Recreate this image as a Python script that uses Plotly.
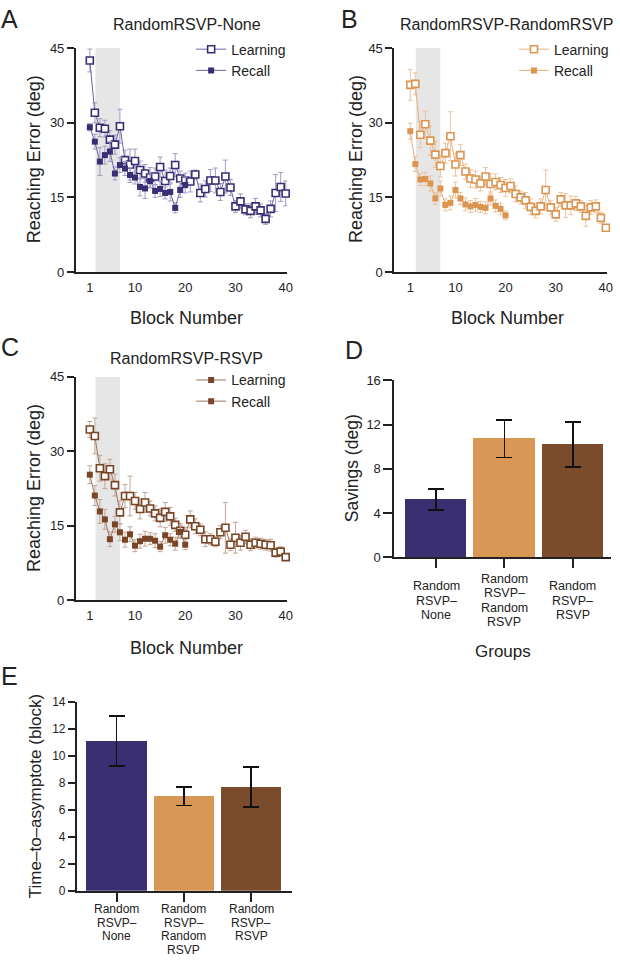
import plotly.graph_objects as go

W, H = 620, 963
FONT = "Liberation Sans, Arial, sans-serif"

blocks = list(range(1, 41))
recall_blocks = list(range(1, 21))

# Panel A: RandomRSVP-None
a_learn = [42.5, 32.0, 29.0, 28.8, 26.6, 25.6, 29.3, 22.5, 21.6, 22.3,
           20.5, 19.8, 19.0, 19.2, 21.1, 18.3, 19.3, 21.5, 18.8, 18.4,
           18.2, 19.6, 15.9, 16.7, 18.4, 18.4, 16.1, 19.2, 17.0, 13.2,
           14.2, 12.6, 12.3, 13.2, 12.4, 10.7, 12.7, 15.9, 17.1, 15.8]
a_learn_err = [2.3, 2.0, 1.8, 1.7, 1.8, 1.9, 3.4, 2.0, 3.1, 2.4,
               1.8, 1.8, 2.0, 1.7, 2.0, 2.2, 1.6, 2.3, 1.5, 1.5,
               2.1, 0.9, 1.8, 1.6, 2.2, 2.5, 1.7, 3.3, 1.6, 1.2,
               1.5, 1.1, 1.4, 1.6, 1.3, 1.1, 1.6, 3.7, 2.9, 2.5]
a_recall = [29.1, 26.2, 22.2, 23.5, 24.2, 19.8, 21.5, 20.8, 19.5, 19.0,
            17.1, 16.8, 18.3, 16.3, 16.7, 15.9, 16.1, 12.9, 16.5, 17.5]
a_recall_err = [0.7, 1.5, 2.8, 1.8, 2.0, 1.3, 1.5, 1.4, 1.5, 1.3,
                1.8, 2.0, 1.4, 1.3, 1.5, 1.2, 1.8, 1.0, 1.5, 1.6]

# Panel B: RandomRSVP-RandomRSVP
b_learn = [37.6, 37.8, 27.6, 29.7, 26.4, 23.6, 21.3, 23.9, 27.3, 21.6,
           23.5, 20.2, 18.8, 18.6, 17.8, 19.2, 17.7, 18.1, 17.5, 16.9,
           17.3, 15.7, 15.0, 14.4, 13.1, 12.3, 13.2, 16.5, 13.0, 11.6,
           14.6, 13.4, 13.4, 13.8, 13.2, 11.3, 13.0, 13.2, 10.9, 8.9]
b_learn_err = [3.1, 2.2, 2.6, 2.6, 3.0, 2.6, 2.2, 2.0, 4.9, 2.3,
               2.1, 1.5, 1.8, 1.7, 1.5, 1.8, 2.0, 1.6, 1.5, 1.7,
               1.4, 1.6, 1.3, 1.6, 1.6, 1.4, 1.5, 4.0, 1.4, 1.4,
               1.4, 2.4, 1.9, 1.4, 1.2, 2.1, 1.4, 1.3, 1.1, 0.5]
b_recall = [28.3, 21.7, 18.6, 18.7, 17.8, 14.8, 16.8, 13.5, 13.9, 16.5,
            14.8, 13.6, 13.2, 13.5, 13.1, 12.9, 14.8, 13.3, 12.7, 11.4]
b_recall_err = [1.6, 1.5, 1.2, 1.3, 1.5, 1.2, 1.5, 1.2, 1.4, 1.6,
                1.2, 1.3, 1.2, 1.3, 1.1, 1.2, 1.3, 1.2, 1.2, 0.9]

# Panel C: RandomRSVP-RSVP
c_learn = [34.4, 33.1, 26.6, 25.0, 26.4, 23.2, 17.7, 21.0, 21.0, 20.0,
           18.4, 19.7, 18.5, 17.5, 16.6, 17.8, 16.9, 15.2, 14.0, 13.2,
           16.3, 14.9, 14.2, 12.3, 12.3, 11.8, 13.7, 14.6, 11.2, 12.6,
           11.6, 12.8, 11.2, 11.6, 11.4, 11.2, 11.1, 9.6, 9.8, 8.7]
c_learn_err = [1.6, 3.6, 2.6, 2.5, 2.0, 2.2, 2.3, 2.3, 4.0, 1.7,
               2.0, 2.0, 1.5, 1.5, 1.8, 1.9, 1.8, 1.3, 1.5, 1.5,
               1.7, 1.5, 1.2, 1.5, 1.1, 1.0, 1.3, 5.1, 1.2, 3.1,
               1.5, 1.3, 1.2, 1.1, 1.1, 1.1, 1.2, 0.9, 1.0, 0.7]
c_recall = [25.3, 21.1, 17.9, 16.3, 12.3, 15.3, 13.7, 12.2, 13.3, 11.0,
            11.9, 12.4, 12.4, 12.0, 10.8, 13.1, 12.2, 11.4, 13.8, 11.2]
c_recall_err = [1.8, 2.0, 2.4, 2.0, 1.5, 1.6, 1.7, 1.5, 1.5, 1.2,
                1.4, 1.5, 1.2, 1.4, 1.0, 1.6, 1.2, 1.3, 1.3, 1.0]

# Panels D and E
groups = [["Random", "RSVP–", "None"],
          ["Random", "RSVP–", "Random", "RSVP"],
          ["Random", "RSVP–", "RSVP"]]
savings = [5.25, 10.72, 10.21]
savings_err = [0.95, 1.7, 2.05]
tta = [11.1, 7.0, 7.7]
tta_err = [1.85, 0.68, 1.47]

bar_colors = ["#3a2f70", "#d99756", "#7b4c2c"]

# styles per panel: (marker, line, error)
styles = {
    "A": ("#3b2d74", "#6f64a0", "#a29bc6"),
    "B": ("#dc9550", "#e6b17c", "#ecc49e"),
    "C": ("#7a4526", "#9c7760", "#c2a696"),
}

def px_x(p):
    return p / W

def px_y(p):
    return 1 - p / H

fig = go.Figure()

panels = [
    ("A", "x", "y", "legend", a_learn, a_learn_err, a_recall, a_recall_err, False),
    ("B", "x2", "y2", "legend2", b_learn, b_learn_err, b_recall, b_recall_err, False),
    ("C", "x3", "y3", "legend3", c_learn, c_learn_err, c_recall, c_recall_err, True),
]

for key, xa, ya, lg, learn, learn_err, rec, rec_err, filled_legend in panels:
    mc, lc, ec = styles[key]
    fig.add_trace(go.Scatter(
        x=blocks, y=learn, xaxis=xa, yaxis=ya, mode="lines+markers",
        name="Learning", legend=lg, showlegend=not filled_legend, cliponaxis=False,
        line=dict(color=lc, width=1),
        marker=dict(symbol="square", size=7, color="white", line=dict(color=mc, width=1.6)),
        error_y=dict(type="data", array=learn_err, color=ec, thickness=1, width=2.5),
    ))
    if filled_legend:
        fig.add_trace(go.Scatter(
            x=[None], y=[None], xaxis=xa, yaxis=ya, mode="lines+markers",
            name="Learning", legend=lg, showlegend=True,
            line=dict(color=lc, width=1),
            marker=dict(symbol="square", size=6, color=mc),
        ))
    fig.add_trace(go.Scatter(
        x=recall_blocks, y=rec, xaxis=xa, yaxis=ya, mode="lines+markers",
        name="Recall", legend=lg, cliponaxis=False,
        line=dict(color=lc, width=1),
        marker=dict(symbol="square", size=6, color=mc),
        error_y=dict(type="data", array=rec_err, color=ec, thickness=1, width=2.5),
    ))
    fig.add_shape(type="rect", xref=xa, yref=ya, x0=2.1, x1=7.0, y0=0, y1=45,
                  fillcolor="#e6e6e6", line=dict(width=0), layer="below")

# Bars
fig.add_trace(go.Bar(
    x=[0, 1, 2], y=savings, xaxis="x4", yaxis="y4", width=0.9,
    marker=dict(color=bar_colors, line=dict(width=0)), showlegend=False,
    error_y=dict(type="data", array=savings_err, color="#111111", thickness=1.6, width=8),
))
fig.add_trace(go.Bar(
    x=[0, 1, 2], y=tta, xaxis="x5", yaxis="y5", width=0.9,
    marker=dict(color=bar_colors, line=dict(width=0)), showlegend=False,
    error_y=dict(type="data", array=tta_err, color="#111111", thickness=1.6, width=8),
))

AX = dict(showline=True, linecolor="#222222", linewidth=2, showgrid=False, zeroline=False,
          tickfont=dict(family=FONT, size=13, color="#222222"), tickcolor="#222222")

dom_A_x = [px_x(76.7), px_x(290)]
dom_B_x = [px_x(398.3), px_x(613.3)]
dom_top_y = [px_y(269.3), px_y(41.7)]
dom_C_y = [px_y(602.7), px_y(375.7)]

line_x = dict(AX, tickvals=[1, 10, 20, 30, 40], ticks="", ticklabelstandoff=2)
line_y = dict(AX, range=[0, 45], tickvals=[0, 15, 30, 45], ticks="outside", ticklen=7, tickwidth=2)

fig.update_layout(
    width=W, height=H, margin=dict(l=0, r=0, t=0, b=0),
    paper_bgcolor="white", plot_bgcolor="white",
    font=dict(family=FONT, color="#222222"),
    xaxis=dict(line_x, domain=dom_A_x, range=[-1.76, 40.3], anchor="y"),
    yaxis=dict(line_y, domain=dom_top_y, anchor="x"),
    xaxis2=dict(line_x, domain=dom_B_x, range=[-2.16, 40.3], anchor="y2"),
    yaxis2=dict(line_y, domain=dom_top_y, anchor="x2"),
    xaxis3=dict(line_x, domain=dom_A_x, range=[-1.76, 40.3], anchor="y3"),
    yaxis3=dict(line_y, domain=dom_C_y, anchor="x3"),
    xaxis4=dict(AX, domain=[px_x(398.3), px_x(617)], range=[-0.61, 2.56], anchor="y4",
                tickvals=[0, 1, 2], ticktext=["", "", ""], ticks="outside", ticklen=9, tickwidth=2),
    yaxis4=dict(AX, domain=[px_y(559), px_y(379.3)], range=[0, 16], tickvals=[0, 4, 8, 12, 16],
                anchor="x4", ticks="outside", ticklen=9, tickwidth=2),
    xaxis5=dict(AX, domain=[px_x(77.7), px_x(295)], range=[-0.59, 2.61], anchor="y5",
                tickvals=[0, 1, 2], ticktext=["", "", ""], ticks="outside", ticklen=9, tickwidth=2),
    yaxis5=dict(AX, domain=[px_y(897.7), px_y(706)], range=[0, 14], tickvals=[0, 2, 4, 6, 8, 10, 12, 14],
                anchor="x5", ticks="outside", ticklen=7, tickwidth=2,
                tickfont=dict(family=FONT, size=12, color="#222222")),
    bargap=0,
)

leg = dict(bgcolor="rgba(0,0,0,0)", borderwidth=0, font=dict(family=FONT, size=14, color="#222222"),
           xanchor="left", yanchor="top", itemwidth=30, tracegroupgap=0)
fig.update_layout(
    legend=dict(leg, x=px_x(193), y=px_y(27)),
    legend2=dict(leg, x=px_x(519), y=px_y(27)),
    legend3=dict(leg, x=px_x(193), y=px_y(363)),
)

def ann(text, x, y, size, angle=0, **kw):
    fig.add_annotation(text=text, x=px_x(x), y=px_y(y), xref="paper", yref="paper",
                       showarrow=False, textangle=angle, xanchor="center", yanchor="middle",
                       font=dict(family=FONT, size=size, color="#222222"), **kw)

# panel letters
ann("A", 10, 12, 25)
ann("B", 353, 12, 25)
ann("C", 10, 345, 25)
ann("D", 357, 348, 25)
ann("E", 10, 680, 25)
# titles
ann("RandomRSVP-None", 189, 18, 16)
ann("RandomRSVP-RandomRSVP", 511, 18, 16)
ann("RandomRSVP-RSVP", 188, 357, 16)
# x-axis titles
ann("Block Number", 188, 316, 18)
ann("Block Number", 512, 316, 18)
ann("Block Number", 188, 651, 18)
ann("Groups", 508, 655, 17)
# y-axis titles
ann("Reaching Error (deg)", 34, 155, 18, angle=-90)
ann("Reaching Error (deg)", 359, 155, 18, angle=-90)
ann("Reaching Error (deg)", 35, 489, 18, angle=-90)
ann("Savings (deg)", 355, 469, 17.5, angle=-90)
ann("Time–to–asymptote (block)", 36, 802, 17, angle=-90)

# category labels: panel D (vertically centred under each bar), panel E (top aligned)
for i, lines in enumerate(groups):
    n = len(lines)
    for j, t in enumerate(lines):
        yd = 603 + (j - (n - 1) / 2) * 14.8
        fig.add_annotation(text=t, x=i, xref="x4", y=px_y(yd), yref="paper", showarrow=False,
                           xanchor="center", yanchor="middle",
                           font=dict(family=FONT, size=12.5, color="#222222"))
        ye = 916.7 + j * 13.6
        fig.add_annotation(text=t, x=i, xref="x5", y=px_y(ye), yref="paper", showarrow=False,
                           xanchor="center", yanchor="middle",
                           font=dict(family=FONT, size=12, color="#222222"))

fig.write_html("out.html", config={"displayModeBar": False},
               post_script="document.body.style.margin='0px';document.body.style.overflow='hidden';")
